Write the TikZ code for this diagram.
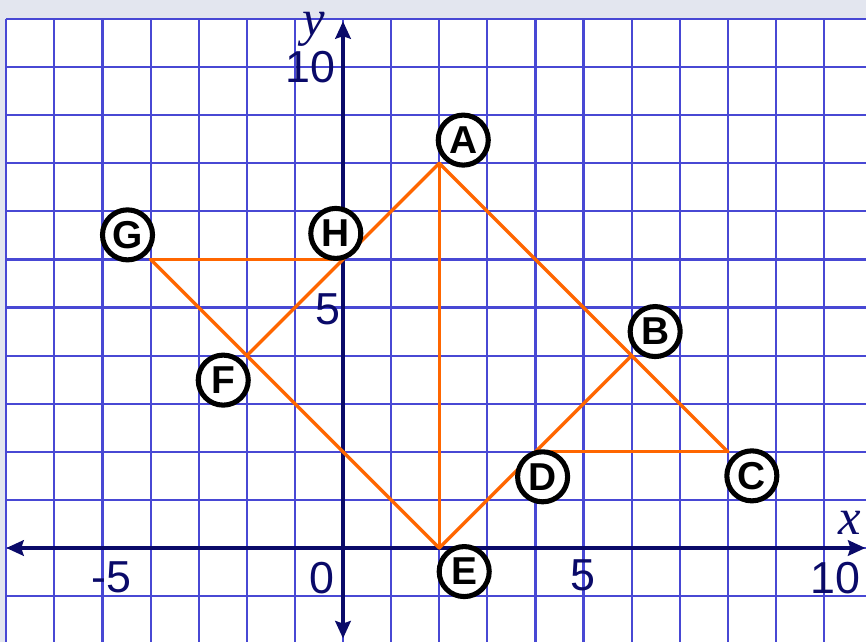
\documentclass[tikz,border=0pt]{standalone}
\usepackage{fontspec}
\setmainfont{Liberation Sans}
\newfontfamily\serifit{Liberation Serif}
\usetikzlibrary{arrows.meta}
\definecolor{gridblue}{RGB}{72,72,212}
\definecolor{navy}{RGB}{10,10,105}
\definecolor{orng}{RGB}{255,102,0}
\definecolor{bggray}{RGB}{227,230,239}
\begin{document}
\begin{tikzpicture}[x=1cm,y=1cm,
  gridline/.style={draw=gridblue, line width=1.3pt},
  axisline/.style={draw=navy, line width=2.3pt,
    {Stealth[length=0.36cm,width=0.32cm,inset=0.05cm]}-{Stealth[length=0.36cm,width=0.32cm,inset=0.05cm]}},
  segline/.style={draw=orng, line width=2pt, line cap=round, line join=round},
  ptlabel/.style={circle, draw=black, line width=3pt, fill=white, minimum size=1.04cm,
    inner sep=0pt, font=\fontsize{23}{26}\selectfont\bfseries},
  ticklabel/.style={text=navy, font=\fontsize{26.5}{30}\selectfont, inner sep=0pt},
  axislabel/.style={text=navy, font=\fontsize{30}{34}\selectfont\serifit\itshape, inner sep=0pt}]
\useasboundingbox (-7.131,-1.954) rectangle (10.873,11.393);
% background
\fill[bggray] (-7.131,-1.954) rectangle (10.873,11.393);
\fill[white] (-7,-1.954) rectangle (10.873,11);
% grid
\foreach \x in {-7,...,10} \draw[gridline] (\x,-1.954) -- (\x,11);
\foreach \y in {-1,...,11} \draw[gridline] (-7,\y) -- (10.873,\y);
% axes
\coordinate (xl) at (-7.0,0);
\coordinate (xr) at (10.86,0);
\coordinate (yb) at (0,-1.88);
\coordinate (yt) at (0,10.95);
\draw[axisline] (xl) -- (xr);
\draw[axisline] (yb) -- (yt);
% tick labels
\node[ticklabel] (tm5) at (-4.82,-0.60) {-5};
\node[ticklabel] (t0x) at (-0.44,-0.62) {0};
\node[ticklabel] (t5x) at (4.99,-0.56) {5};
\node[ticklabel] (t10x) at (10.24,-0.63) {10};
\node[ticklabel] (t10y) at (-0.67,9.99) {10};
\node[ticklabel] (t5y) at (-0.32,4.97) {5};
\node[axislabel] (xlab) at (10.54,0.52) {x};
\node[axislabel] (ylab) at (-0.6,10.78) {y};
% points
\coordinate (A) at (2,8);
\coordinate (B) at (6,4);
\coordinate (C) at (8,2);
\coordinate (D) at (4,2);
\coordinate (E) at (2,0);
\coordinate (F) at (-2,4);
\coordinate (G) at (-4,6);
\coordinate (H) at (0,6);
% segments
\draw[segline] (A) -- (E);
\draw[segline] (A) -- (C);
\draw[segline] (C) -- (D);
\draw[segline] (E) -- (B);
\draw[segline] (G) -- (H);
\draw[segline] (G) -- (E);
\draw[segline] (F) -- (A);
% labels
\node[ptlabel] (lA) at (2.50,8.48) {A};
\node[ptlabel] (lB) at (6.49,4.50) {B};
\node[ptlabel] (lC) at (8.50,1.50) {C};
\node[ptlabel] (lD) at (4.15,1.48) {D};
\node[ptlabel] (lE) at (2.52,-0.49) {E};
\node[ptlabel] (lF) at (-2.49,3.49) {F};
\node[ptlabel] (lG) at (-4.48,6.51) {G};
\node[ptlabel] (lH) at (-0.15,6.54) {H};
\end{tikzpicture}
\end{document}
